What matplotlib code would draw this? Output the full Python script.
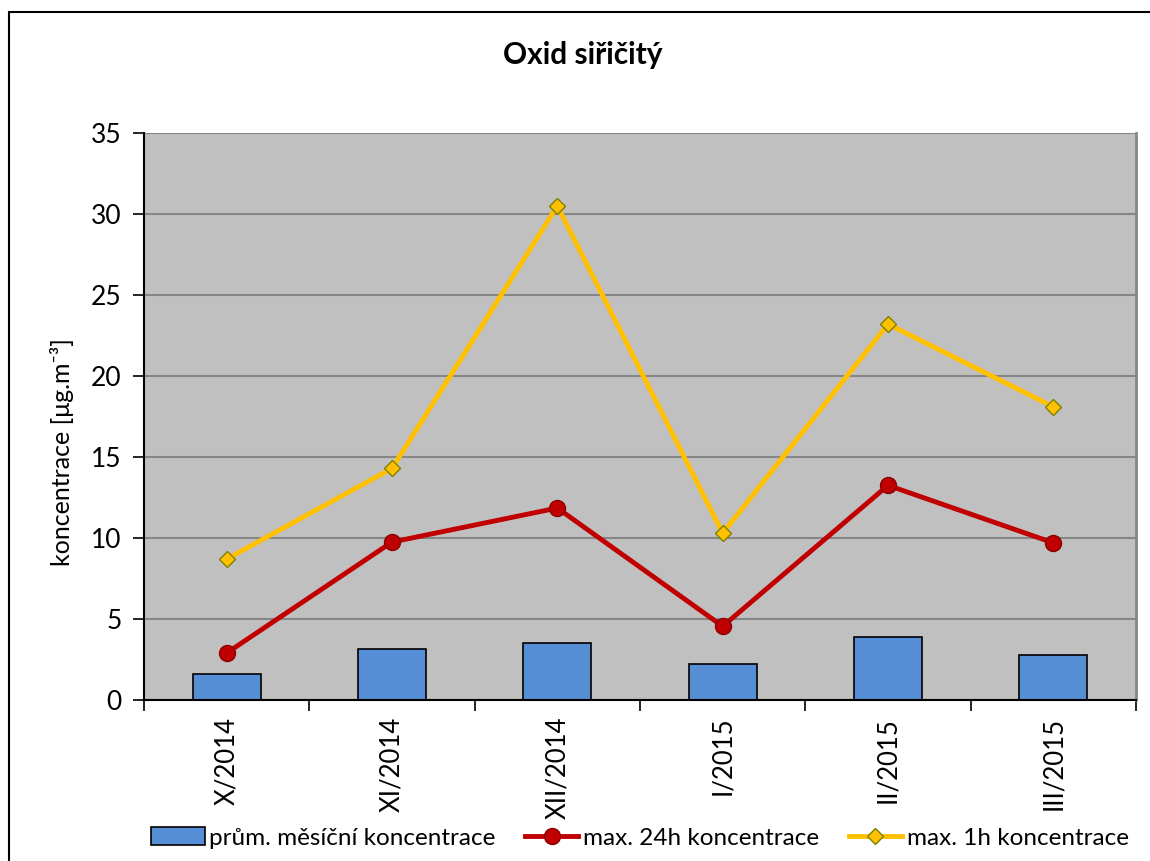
import matplotlib
matplotlib.use('Agg')
import matplotlib.pyplot as plt
import matplotlib.patches as patches
import numpy as np

plt.rcParams['font.family'] = ['Lato', 'DejaVu Sans']

# data
MONTHS = ['X/2014', 'XI/2014', 'XII/2014', 'I/2015', 'II/2015', 'III/2015']
AVG_MONTH = [1.6, 3.15, 3.5, 2.25, 3.9, 2.8]
MAX_24H = [2.9, 9.75, 11.85, 4.55, 13.25, 9.7]
MAX_1H = [8.7, 14.3, 30.5, 10.3, 23.2, 18.1]

fig = plt.figure(figsize=(11.5, 8.61), dpi=100)
# outer chart frame
fig.patches.append(patches.Rectangle((9/1150, -0.1), 1.2, 1.1 - 12/861,
                                     transform=fig.transFigure, fill=False,
                                     edgecolor='black', linewidth=1.5))

ax = fig.add_axes([144/1150, 161/861, 992/1150, 567/861])
ax.set_facecolor('#C0C0C0')
x = np.arange(len(MONTHS))

bars = ax.bar(x, AVG_MONTH, width=0.41, color='#558ED5', edgecolor='black',
              linewidth=1.2, zorder=2, label='prům. měsíční koncentrace')
l24, = ax.plot(x, MAX_24H, color='#C00000', linewidth=3.5, marker='o', markersize=11.5,
               markerfacecolor='#C00000', markeredgecolor='#8B0000', zorder=3,
               label='max. 24h koncentrace')
l1, = ax.plot(x, MAX_1H, color='#FFC000', linewidth=3.5, marker='D', markersize=8.5,
              markerfacecolor='#FFC000', markeredgecolor='#7F7F00', zorder=3,
              label='max. 1h koncentrace')

ax.set_ylim(0, 35)
ax.set_xlim(-0.5, len(MONTHS) - 0.5)
ax.set_yticks(np.arange(0, 36, 5))
ax.yaxis.grid(True, color='#868686', linewidth=1.5, zorder=0)
ax.set_axisbelow(True)

# category boundaries as ticks, labels centred between them
ax.set_xticks(np.arange(-0.5, len(MONTHS), 1.0))
ax.set_xticklabels([])
ax.set_xticks(x, minor=True)
ax.set_xticklabels(MONTHS, minor=True, rotation=90, fontsize=18.5)
ax.tick_params(axis='x', which='minor', length=0, pad=12)
ax.tick_params(axis='x', which='major', length=8, width=1.2, direction='out')
ax.tick_params(axis='y', length=8, width=1.2, labelsize=19, pad=8)

for s in ['left', 'bottom']:
    ax.spines[s].set_color('black')
    ax.spines[s].set_linewidth(1.5)
ax.spines['top'].set_visible(False)
ax.spines['right'].set_color('#868686')
ax.spines['right'].set_linewidth(2)

fig.text(62/1150, 1 - 452/861, 'koncentrace [μg.m⁻³]', rotation=90,
         ha='center', va='center', fontsize=18)
fig.text(583/1150, 1 - 55/861, 'Oxid siřičitý', ha='center', va='center',
         fontsize=21.5, fontweight='bold')

fig.legend(handles=[bars, l24, l1], loc='center', ncol=3, frameon=False,
           bbox_to_anchor=(640/1150, 1 - 838/861), fontsize=17.5,
           handlelength=2.2, handletextpad=0.2, columnspacing=1.2)

fig.savefig('out.png', dpi=100)
